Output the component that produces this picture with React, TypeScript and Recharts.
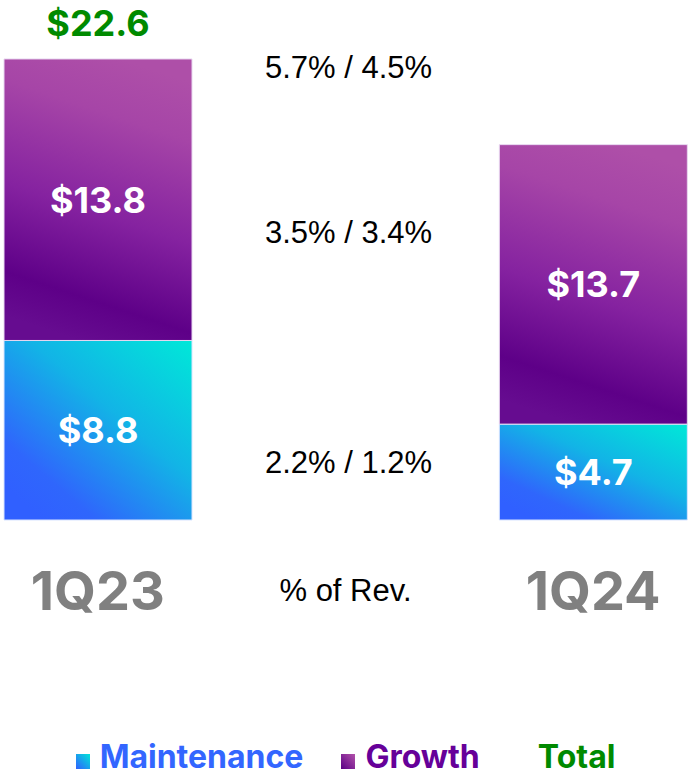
import React from 'react';
import {
  BarChart,
  Bar,
  XAxis,
  YAxis,
  LabelList,
  Legend,
  ReferenceDot,
} from 'recharts';

const categories = ['1Q23', '% of Rev.', '1Q24'];
const maintenance = [8.8, null, 4.7];
const growth = [13.8, null, 13.7];
const totals = [22.6, null, 18.4];
const maintenancePct = '2.2% / 1.2%';
const growthPct = '3.5% / 3.4%';
const totalPct = '5.7% / 4.5%';

const data = categories.map((c, i) => ({
  name: c,
  maintenance: maintenance[i],
  growth: growth[i],
  total: totals[i],
}));

const boldFont = 'Inter, "Open Sans", sans-serif';
const plainFont = '"Liberation Sans", Arial, sans-serif';

const money = (v: any) => (v == null ? '' : `$${Number(v).toFixed(1)}`);

function CategoryTick({ x, y, payload }: any) {
  const isMiddle = payload.value === '% of Rev.';
  return (
    <text
      x={x}
      y={y + 62}
      textAnchor="middle"
      dominantBaseline="central"
      fill={isMiddle ? '#000' : '#808080'}
      fontFamily={isMiddle ? plainFont : boldFont}
      fontWeight={isMiddle ? 400 : 700}
      fontSize={isMiddle ? 31 : 54}
    >
      {payload.value}
    </text>
  );
}

function TotalLabel({ x, y, width, index }: any) {
  const t = totals[index];
  if (t == null) return null;
  return (
    <text
      x={x + width / 2}
      y={y - 36}
      textAnchor="middle"
      dominantBaseline="central"
      fill="#008a00"
      fontFamily={boldFont}
      fontWeight={700}
      fontSize={36}
    >
      {money(t)}
    </text>
  );
}

function PctLabel({ viewBox, value }: any) {
  return (
    <text
      x={viewBox.x + 3}
      y={viewBox.y}
      textAnchor="middle"
      dominantBaseline="central"
      fill="#000"
      fontFamily={plainFont}
      fontSize={31}
    >
      {value}
    </text>
  );
}

function Swatch({ id, from, to }: { id: string; from: string; to: string }) {
  return (
    <svg width={14} height={15} style={{ marginRight: 10, position: 'relative', top: 4 }}>
      <defs>
        <linearGradient id={id} x1="1" y1="0" x2="0" y2="1">
          <stop offset="0%" stopColor={from} />
          <stop offset="100%" stopColor={to} />
        </linearGradient>
      </defs>
      <rect width={14} height={15} fill={`url(#${id})`} />
    </svg>
  );
}

function LegendContent() {
  const item = { display: 'flex', alignItems: 'center' } as const;
  return (
    <div
      style={{
        display: 'flex',
        justifyContent: 'center',
        alignItems: 'center',
        height: 36,
        fontFamily: boldFont,
        fontWeight: 700,
        fontSize: 32,
        lineHeight: '36px',
      }}
    >
      <div style={{ ...item, color: '#3366ff', marginRight: 38 }}>
        <Swatch id="lgM" from="#00e5d8" to="#3060ff" />
        Maintenance
      </div>
      <div style={{ ...item, color: '#660099', marginRight: 58 }}>
        <Swatch id="lgG" from="#b352aa" to="#5a0085" />
        Growth
      </div>
      <div style={{ ...item, color: '#008a00' }}>Total</div>
    </div>
  );
}

export default function App() {
  return (
    <div
      style={{
        position: 'fixed',
        left: 0,
        top: 0,
        width: 688,
        height: 775,
        overflow: 'hidden',
        background: '#fff',
      }}
    >
      <div style={{ marginLeft: -26 }}>
        <BarChart
          width={743}
          height={775}
          data={data}
          margin={{ top: 10, right: 0, bottom: 0, left: 0 }}
          barSize={188}
        >
          <defs>
            <linearGradient id="gradMaint" x1="1" y1="0" x2="0.15" y2="0.95">
              <stop offset="0%" stopColor="#00e8d8" />
              <stop offset="45%" stopColor="#12b4e6" />
              <stop offset="85%" stopColor="#2f66fc" />
              <stop offset="100%" stopColor="#3060ff" />
            </linearGradient>
            <linearGradient id="gradGrowth" x1="0.62" y1="0" x2="0.4" y2="1">
              <stop offset="0%" stopColor="#ae4fa8" />
              <stop offset="20%" stopColor="#a645a7" />
              <stop offset="55%" stopColor="#8522a0" />
              <stop offset="85%" stopColor="#5e0088" />
              <stop offset="100%" stopColor="#660c90" />
            </linearGradient>
          </defs>
          <XAxis
            dataKey="name"
            height={219}
            axisLine={false}
            tickLine={false}
            tick={<CategoryTick />}
            interval={0}
          />
          <YAxis hide domain={[0, 25]} />
          <Legend verticalAlign="bottom" height={36} content={<LegendContent />} />
          <Bar
            dataKey="maintenance"
            stackId="a"
            fill="url(#gradMaint)"
            stroke="#d8e4ff"
            strokeWidth={1}
            isAnimationActive={false}
          >
            <LabelList
              dataKey="maintenance"
              position="center"
              formatter={money}
              fill="#fff"
              fontFamily={boldFont}
              fontWeight={700}
              fontSize={36}
            />
          </Bar>
          <Bar
            dataKey="growth"
            stackId="a"
            fill="url(#gradGrowth)"
            stroke="#e8d8f0"
            strokeWidth={1}
            isAnimationActive={false}
          >
            <LabelList
              dataKey="growth"
              position="center"
              formatter={money}
              fill="#fff"
              fontFamily={boldFont}
              fontWeight={700}
              fontSize={36}
            />
            <LabelList dataKey="total" content={<TotalLabel />} />
          </Bar>
          <ReferenceDot
            x="% of Rev."
            y={22.2}
            r={0}
            fill="none"
            stroke="none"
            label={<PctLabel value={totalPct} />}
          />
          <ReferenceDot
            x="% of Rev."
            y={14.1}
            r={0}
            fill="none"
            stroke="none"
            label={<PctLabel value={growthPct} />}
          />
          <ReferenceDot
            x="% of Rev."
            y={2.8}
            r={0}
            fill="none"
            stroke="none"
            label={<PctLabel value={maintenancePct} />}
          />
        </BarChart>
      </div>
    </div>
  );
}
